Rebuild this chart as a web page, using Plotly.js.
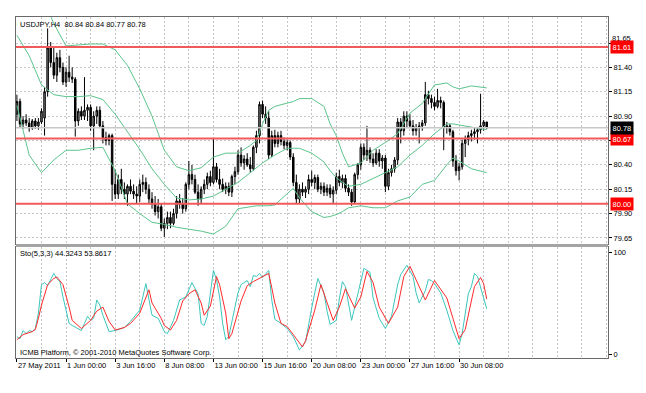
<!DOCTYPE html>
<html><head><meta charset="utf-8">
<script src="https://cdn.plot.ly/plotly-3.0.1.min.js"></script>
<style>html,body{margin:0;padding:0;background:#fff}#chart{width:646px;height:393px}</style>
</head><body><div id="chart"></div>
<script>
// ---- USDJPY H4 candles (bar index 0 = 27 May 2011 08:00) ----
const barOpen = [
80.92,81.05,80.82,80.86,80.83,80.78,80.85,80.80,80.84,80.88,
81.15,81.60,81.45,81.32,81.50,81.40,81.25,81.35,81.30,81.28,
80.85,80.95,80.90,80.96,80.99,80.80,80.90,80.96,80.80,80.68,
80.65,80.70,80.20,80.10,80.25,80.15,80.10,80.18,80.13,80.10,
80.08,80.20,80.22,80.15,80.05,80.00,79.92,79.97,79.75,79.80,
79.86,79.80,79.90,80.03,80.00,79.95,80.20,80.30,80.25,80.12,
80.05,80.15,80.20,80.28,80.22,80.38,80.25,80.20,80.15,80.18,
80.12,80.28,80.33,80.50,80.42,80.46,80.40,80.36,80.58,80.70,
81.02,80.92,80.88,80.50,80.70,80.62,80.70,80.64,80.60,80.63,
80.48,80.22,80.05,80.15,80.12,80.15,80.25,80.22,80.27,80.15,
80.18,80.12,80.16,80.10,80.14,80.28,80.22,80.26,80.16,80.12,
80.02,80.30,80.40,80.58,80.50,80.55,80.46,80.42,80.52,80.44,
80.47,80.18,80.32,80.36,80.45,80.84,80.75,80.90,80.85,80.80,
80.75,80.78,80.80,80.83,81.12,81.08,81.04,81.00,81.06,81.04,
80.78,80.80,80.74,80.44,80.34,80.38,80.62,80.66,80.70,80.72,
80.74,80.76,80.80,80.84];
const barHigh = [
81.12,81.08,80.90,80.92,80.88,80.87,80.88,80.88,80.98,81.20,
81.80,81.66,81.62,81.55,81.58,81.45,81.40,81.52,81.40,81.30,
80.98,81.00,81.30,81.02,81.02,80.95,81.00,81.00,80.85,80.74,
80.72,80.72,80.35,80.30,80.36,80.22,80.20,80.25,80.20,80.18,
80.25,80.30,80.27,80.20,80.12,80.08,80.05,80.00,79.85,79.92,
79.92,79.95,80.08,80.10,80.06,80.22,80.44,80.40,80.30,80.20,
80.18,80.25,80.32,80.34,80.67,80.42,80.36,80.26,80.22,80.22,
80.30,80.38,80.55,80.58,80.50,80.52,80.48,80.60,80.75,81.05,
81.06,81.00,80.95,80.75,80.76,80.74,80.75,80.68,80.66,80.65,
80.52,80.30,80.20,80.22,80.18,80.30,80.34,80.30,80.30,80.22,
80.22,80.20,80.20,80.18,80.32,80.35,80.30,80.30,80.20,80.15,
80.32,80.42,80.62,80.62,80.80,80.58,80.52,80.56,80.56,80.50,
80.50,80.36,80.40,80.48,80.88,80.88,80.95,80.95,80.92,80.86,
80.82,80.84,80.86,81.25,81.16,81.12,81.10,81.18,81.10,81.06,
80.84,80.82,80.76,80.50,80.42,80.66,80.70,80.74,80.76,80.78,
80.78,81.13,80.86,80.84];
const barLow = [
80.85,80.78,80.77,80.80,80.74,80.76,80.77,80.76,80.82,80.70,
81.10,81.40,81.28,81.25,81.35,81.22,81.20,81.25,81.24,80.69,
80.80,80.86,80.86,80.85,80.75,80.55,80.82,80.78,80.62,80.60,
80.60,80.03,80.05,80.05,80.10,80.05,79.98,80.10,80.05,80.00,
80.02,80.12,80.10,80.00,79.95,79.88,79.85,79.72,79.66,79.74,
79.75,79.78,79.85,79.95,79.90,79.92,80.15,80.20,80.10,79.98,
80.00,80.10,80.15,80.18,80.20,80.22,80.15,80.12,80.10,80.08,
80.07,80.20,80.30,80.38,80.35,80.38,80.32,80.34,80.52,80.62,
80.88,80.82,80.46,80.48,80.58,80.58,80.60,80.56,80.55,80.45,
80.18,80.00,80.00,80.08,80.06,80.10,80.18,80.15,80.12,80.10,
80.08,80.08,80.06,80.00,80.10,80.18,80.16,80.12,80.08,79.98,
80.00,80.25,80.35,80.45,80.44,80.42,80.38,80.40,80.38,80.36,
80.12,80.14,80.28,80.32,80.40,80.62,80.70,80.78,80.78,80.70,
80.70,80.62,80.75,80.80,81.02,80.98,80.96,80.98,80.98,80.55,
80.72,80.70,80.38,80.29,80.24,80.35,80.48,80.60,80.64,80.66,
80.62,80.72,80.75,80.77];
const barClose = [
81.05,80.82,80.86,80.83,80.78,80.85,80.80,80.84,80.95,81.15,
81.60,81.45,81.32,81.50,81.40,81.25,81.35,81.30,81.28,80.85,
80.95,80.90,80.96,80.99,80.80,80.90,80.96,80.80,80.68,80.65,
80.70,80.20,80.10,80.25,80.15,80.10,80.18,80.13,80.10,80.08,
80.20,80.22,80.15,80.05,80.00,79.92,79.97,79.75,79.80,79.86,
79.80,79.90,80.03,80.00,79.95,80.20,80.30,80.25,80.12,80.05,
80.15,80.20,80.28,80.22,80.38,80.25,80.20,80.15,80.18,80.12,
80.28,80.33,80.50,80.42,80.46,80.40,80.36,80.58,80.70,81.02,
80.92,80.88,80.50,80.70,80.62,80.70,80.64,80.60,80.63,80.48,
80.22,80.05,80.15,80.12,80.15,80.25,80.22,80.27,80.15,80.18,
80.12,80.16,80.10,80.14,80.28,80.22,80.26,80.16,80.12,80.02,
80.30,80.40,80.58,80.50,80.55,80.46,80.42,80.52,80.44,80.47,
80.18,80.32,80.36,80.45,80.84,80.75,80.90,80.85,80.80,80.75,
80.78,80.80,80.83,81.12,81.08,81.04,81.00,81.06,81.04,80.78,
80.80,80.74,80.44,80.34,80.38,80.62,80.66,80.70,80.72,80.74,
80.76,80.80,80.84,80.78];

// ---- Bollinger bands ----
const bbIdx = [0,4,8,12,16,20,24,28,32,36,40,44,48,52,56,60,64,68,72,76,78,80,82,84,88,90,92,96,100,102,104,106,108,112,116,120,124,128,132,136,140,142,144,148,153];
const bbUpper = [82.45,82.5,82.15,81.85,81.62,81.63,81.64,81.64,81.58,81.42,81.18,80.9,80.55,80.38,80.34,80.37,80.48,80.52,80.52,80.6,80.65,80.82,80.96,81.0,81.03,81.05,81.08,81.08,81.0,80.82,80.7,80.52,80.38,80.42,80.55,80.63,80.72,80.93,81.03,81.22,81.24,81.2,81.18,81.21,81.19];
const bbMiddle = [81.73,81.52,81.22,81.12,81.10,81.10,81.11,81.07,80.92,80.74,80.56,80.36,80.2,80.06,80.04,80.05,80.08,80.15,80.22,80.32,80.37,80.42,80.46,80.5,80.57,80.57,80.57,80.52,80.43,80.34,80.27,80.22,80.18,80.2,80.26,80.32,80.38,80.5,80.6,80.72,80.82,80.82,80.81,80.79,80.76];
const bbLower = [81.01,80.50,80.32,80.45,80.55,80.55,80.57,80.58,80.34,80.0,79.9,79.81,79.79,79.76,79.74,79.72,79.69,79.77,79.95,79.97,79.98,79.98,79.98,79.99,80.10,80.16,80.06,79.92,79.86,79.87,79.89,79.92,79.96,79.98,79.96,79.96,80.03,80.07,80.2,80.24,80.4,80.47,80.44,80.36,80.32];

// ---- Stochastic (5,3,3) ----
const kIdx = [0,1,2,3,4,5,6,7,8,9, 10,12,13,14,15,17,18,21,22,23, 24,25,26,27,28,30,32,35,37,40, 42,43,44,46,48,49,51,53,55,57,
 59,60,61,62,64,65,66,67,68,69, 70,71,72,73,74,75,76,77,78,79, 80,81,82,83,84,86,88,90,92,94, 95,96,97,98,100,101,102,104,105,106,
 107,109,110,112,113,115,116,117,118,120, 122,124,125,127,129,130,131,133,134,135, 136,138,140,142,144,145,147,148,149,150, 151,152,153];
const kVal = [17,15,23,20,23,22,25,40,68,70, 67,79,74,71,56,30,28,23,30,37, 33,35,53,48,38,22,23,26,32,43, 69,55,38,35,22,20,33,53,56,70,
 59,30,28,37,82,73,56,30,14,17, 33,46,60,68,70,72,66,77,76,79, 75,78,82,53,34,30,25,17,4,12, 30,45,60,74,60,42,29,33,54,71,
 66,33,46,70,84,80,55,45,35,25, 37,68,78,87,76,60,50,62,73,72, 69,60,43,23,9,20,59,66,79,76, 65,53,44.32];
const dIdx = [0,2,5,6,7,8,10,12,13,15, 17,18,21,22,24,26,28,30,32,35, 37,40,43,44,47,48,50,52,54,56, 58,60,61,63,65,66,68,69,70,73,
 75,77,80,82,83,84,86,88,91,93, 94,97,99,101,103,105,107,110,112,114, 116,118,121,124,126,128,130,131,133,136, 138,140,142,144,146,148,149,151,152,153];
const dVal = [14,19,22,24,35,48,68,74,75.5,68, 46,33,25,28,33,42,46,32,23.5,26, 30,40,63,50,35,28,23.5,33,52,59, 63,50,38,47,76,68,40,15,20,52,
 67,71,76,79,65,50,30,27,15,7, 13,43,68,50,33,46,64,45,56,81, 70,46,30,46,76,86,73,66,53,72, 64,55,35,15,24,50,66,75,69,53.86];

// ---- axis labels and levels ----
const timeLabelIdx = [0,16,32,48,64,80,96,112,128,144];
const timeLabels = ['27 May 2011','1 Jun 00:00','3 Jun 16:00','8 Jun 08:00','13 Jun 00:00','15 Jun 16:00','20 Jun 08:00','23 Jun 00:00','27 Jun 16:00','30 Jun 08:00'];
const gridIdx = [8,16,24,32,40,48,56,64,72,80,88,96,104,112,120,128,136,144,152,160,168,176,184,192];
const priceTicks = [79.65,79.90,80.15,80.40,80.65,80.90,81.15,81.40,81.65];
const priceTickText = ['79.65','79.90','80.15','80.40','','80.90','81.15','81.40',''];
const topPriceLabel = 81.65;
const levels = [81.61,80.67,80.00];
const headerText = 'USDJPY,H4  80.84 80.84 80.77 80.78';
const stoText = 'Sto(5,3,3) 44.3243 53.8617';
const footText = 'ICMB Platform, © 2001-2010 MetaQuotes Software Corp.';

const barIdx = barClose.map((_, i) => i);
const lastClose = barClose[barClose.length - 1];

const FONT = 'Liberation Sans, Arial, sans-serif';
const GRID = '#c4c4c4';
const BORDER = '#6a6a6a';
const BAND = '#5cc48c';

const traces = [
  {type:'scatter', mode:'lines', x:bbIdx, y:bbUpper, line:{color:BAND, width:1}, xaxis:'x', yaxis:'y', hoverinfo:'skip'},
  {type:'scatter', mode:'lines', x:bbIdx, y:bbMiddle, line:{color:BAND, width:1}, xaxis:'x', yaxis:'y', hoverinfo:'skip'},
  {type:'scatter', mode:'lines', x:bbIdx, y:bbLower, line:{color:BAND, width:1}, xaxis:'x', yaxis:'y', hoverinfo:'skip'},
  {type:'candlestick', x:barIdx, open:barOpen, high:barHigh, low:barLow, close:barClose,
   increasing:{line:{color:'#000', width:1}, fillcolor:'#8a8a8a'},
   decreasing:{line:{color:'#000', width:1}, fillcolor:'#000'},
   whiskerwidth:0, xaxis:'x', yaxis:'y', hoverinfo:'skip'},
  {type:'scatter', mode:'lines', x:kIdx, y:kVal, line:{color:'#3cc6bc', width:1}, xaxis:'x2', yaxis:'y2', hoverinfo:'skip'},
  {type:'scatter', mode:'lines', x:dIdx, y:dVal, line:{color:'#ff2a2a', width:1}, xaxis:'x2', yaxis:'y2', hoverinfo:'skip'}
];

const mainDom = [0.3343, 1];
const stoDom = [0, 0.3255];
const xr = [-0.3, 192.5];

const shapes = [];
shapes.push({type:'line', xref:'paper', x0:0, x1:1, yref:'y', y0:lastClose, y1:lastClose, line:{color:'#c8c8c8', width:1.5}});
levels.forEach(v => shapes.push({type:'line', xref:'paper', x0:0, x1:1, yref:'y', y0:v, y1:v, line:{color:'#f25a5a', width:2}}));
shapes.push({type:'rect', xref:'paper', yref:'paper', x0:0, x1:1, y0:stoDom[1], y1:mainDom[0], fillcolor:'#a4a4a4', line:{width:0}, layer:'above'});

const annotations = [
  {xref:'paper', yref:'paper', x:0, y:0.979, xanchor:'left', yanchor:'middle', xshift:2, text:headerText, showarrow:false, font:{family:FONT, size:7.5, color:'#000'}},
  {xref:'paper', yref:'paper', x:0, y:0.305, xanchor:'left', yanchor:'middle', xshift:2, text:stoText, showarrow:false, font:{family:FONT, size:7.5, color:'#000'}},
  {xref:'paper', yref:'paper', x:0, y:0.017, xanchor:'left', yanchor:'middle', xshift:2, text:footText, showarrow:false, font:{family:FONT, size:7.5, color:'#000'}},
  {xref:'paper', yref:'y', x:1, y:topPriceLabel, xanchor:'left', yanchor:'bottom', xshift:3, yshift:-1, text:topPriceLabel.toFixed(2),
   showarrow:false, borderpad:0, font:{family:FONT, size:7.5, color:'#000'}}
];
levels.forEach(v => annotations.push({xref:'paper', yref:'y', x:1, y:v, xanchor:'left', yanchor:'middle', xshift:2,
  text:v.toFixed(2), showarrow:false, bgcolor:'#ff0000', borderpad:1.5, font:{family:FONT, size:7.5, color:'#fff'}}));
annotations.push({xref:'paper', yref:'y', x:1, y:lastClose, xanchor:'left', yanchor:'middle', xshift:2,
  text:lastClose.toFixed(2), showarrow:false, bgcolor:'#000', borderpad:1.5, font:{family:FONT, size:7.5, color:'#fff'}});

const layout = {
  width:646, height:393,
  margin:{l:16, r:38, t:17, b:35, pad:0},
  paper_bgcolor:'#fff', plot_bgcolor:'#fff',
  showlegend:false,
  font:{family:FONT, size:7.5, color:'#000'},
  xaxis:{domain:[0,1], anchor:'y', range:xr, tickmode:'array', tickvals:gridIdx, showticklabels:false, ticks:'',
    showgrid:true, gridcolor:GRID, gridwidth:1, griddash:'2px,2px', showline:true, mirror:true, linecolor:BORDER, linewidth:1,
    zeroline:false, rangeslider:{visible:false}, fixedrange:true},
  yaxis:{domain:mainDom, anchor:'x', range:[79.588,81.917], side:'right', tickmode:'array', tickvals:priceTicks, ticktext:priceTickText,
    ticks:'outside', ticklen:3, tickcolor:'#000', showgrid:true, gridcolor:GRID, gridwidth:1, griddash:'2px,2px',
    showline:true, mirror:true, linecolor:BORDER, linewidth:1, zeroline:false, fixedrange:true, tickfont:{family:FONT, size:7.5}},
  xaxis2:{domain:[0,1], anchor:'y2', range:xr, tickmode:'array', tickvals:timeLabelIdx, ticktext:timeLabels,
    ticks:'outside', ticklen:3, tickcolor:'#000', ticklabelposition:'outside right', tickangle:0,
    showgrid:true, gridcolor:GRID, gridwidth:1, griddash:'2px,2px',
    minor:{tickmode:'array', tickvals:gridIdx, showgrid:true, gridcolor:GRID, gridwidth:1, griddash:'2px,2px', ticks:''},
    showline:true, mirror:true, linecolor:BORDER, linewidth:1, zeroline:false, fixedrange:true, tickfont:{family:FONT, size:7.5}},
  yaxis2:{domain:stoDom, anchor:'x2', range:[-3.9,104.9], side:'right', tickmode:'array', tickvals:[0,100],
    ticks:'outside', ticklen:3, tickcolor:'#000', showgrid:false, showline:true, mirror:true, linecolor:BORDER, linewidth:1,
    zeroline:false, fixedrange:true, tickfont:{family:FONT, size:7.5}},
  shapes:shapes,
  annotations:annotations
};

Plotly.newPlot('chart', traces, layout, {staticPlot:true, displayModeBar:false});
</script></body></html>
